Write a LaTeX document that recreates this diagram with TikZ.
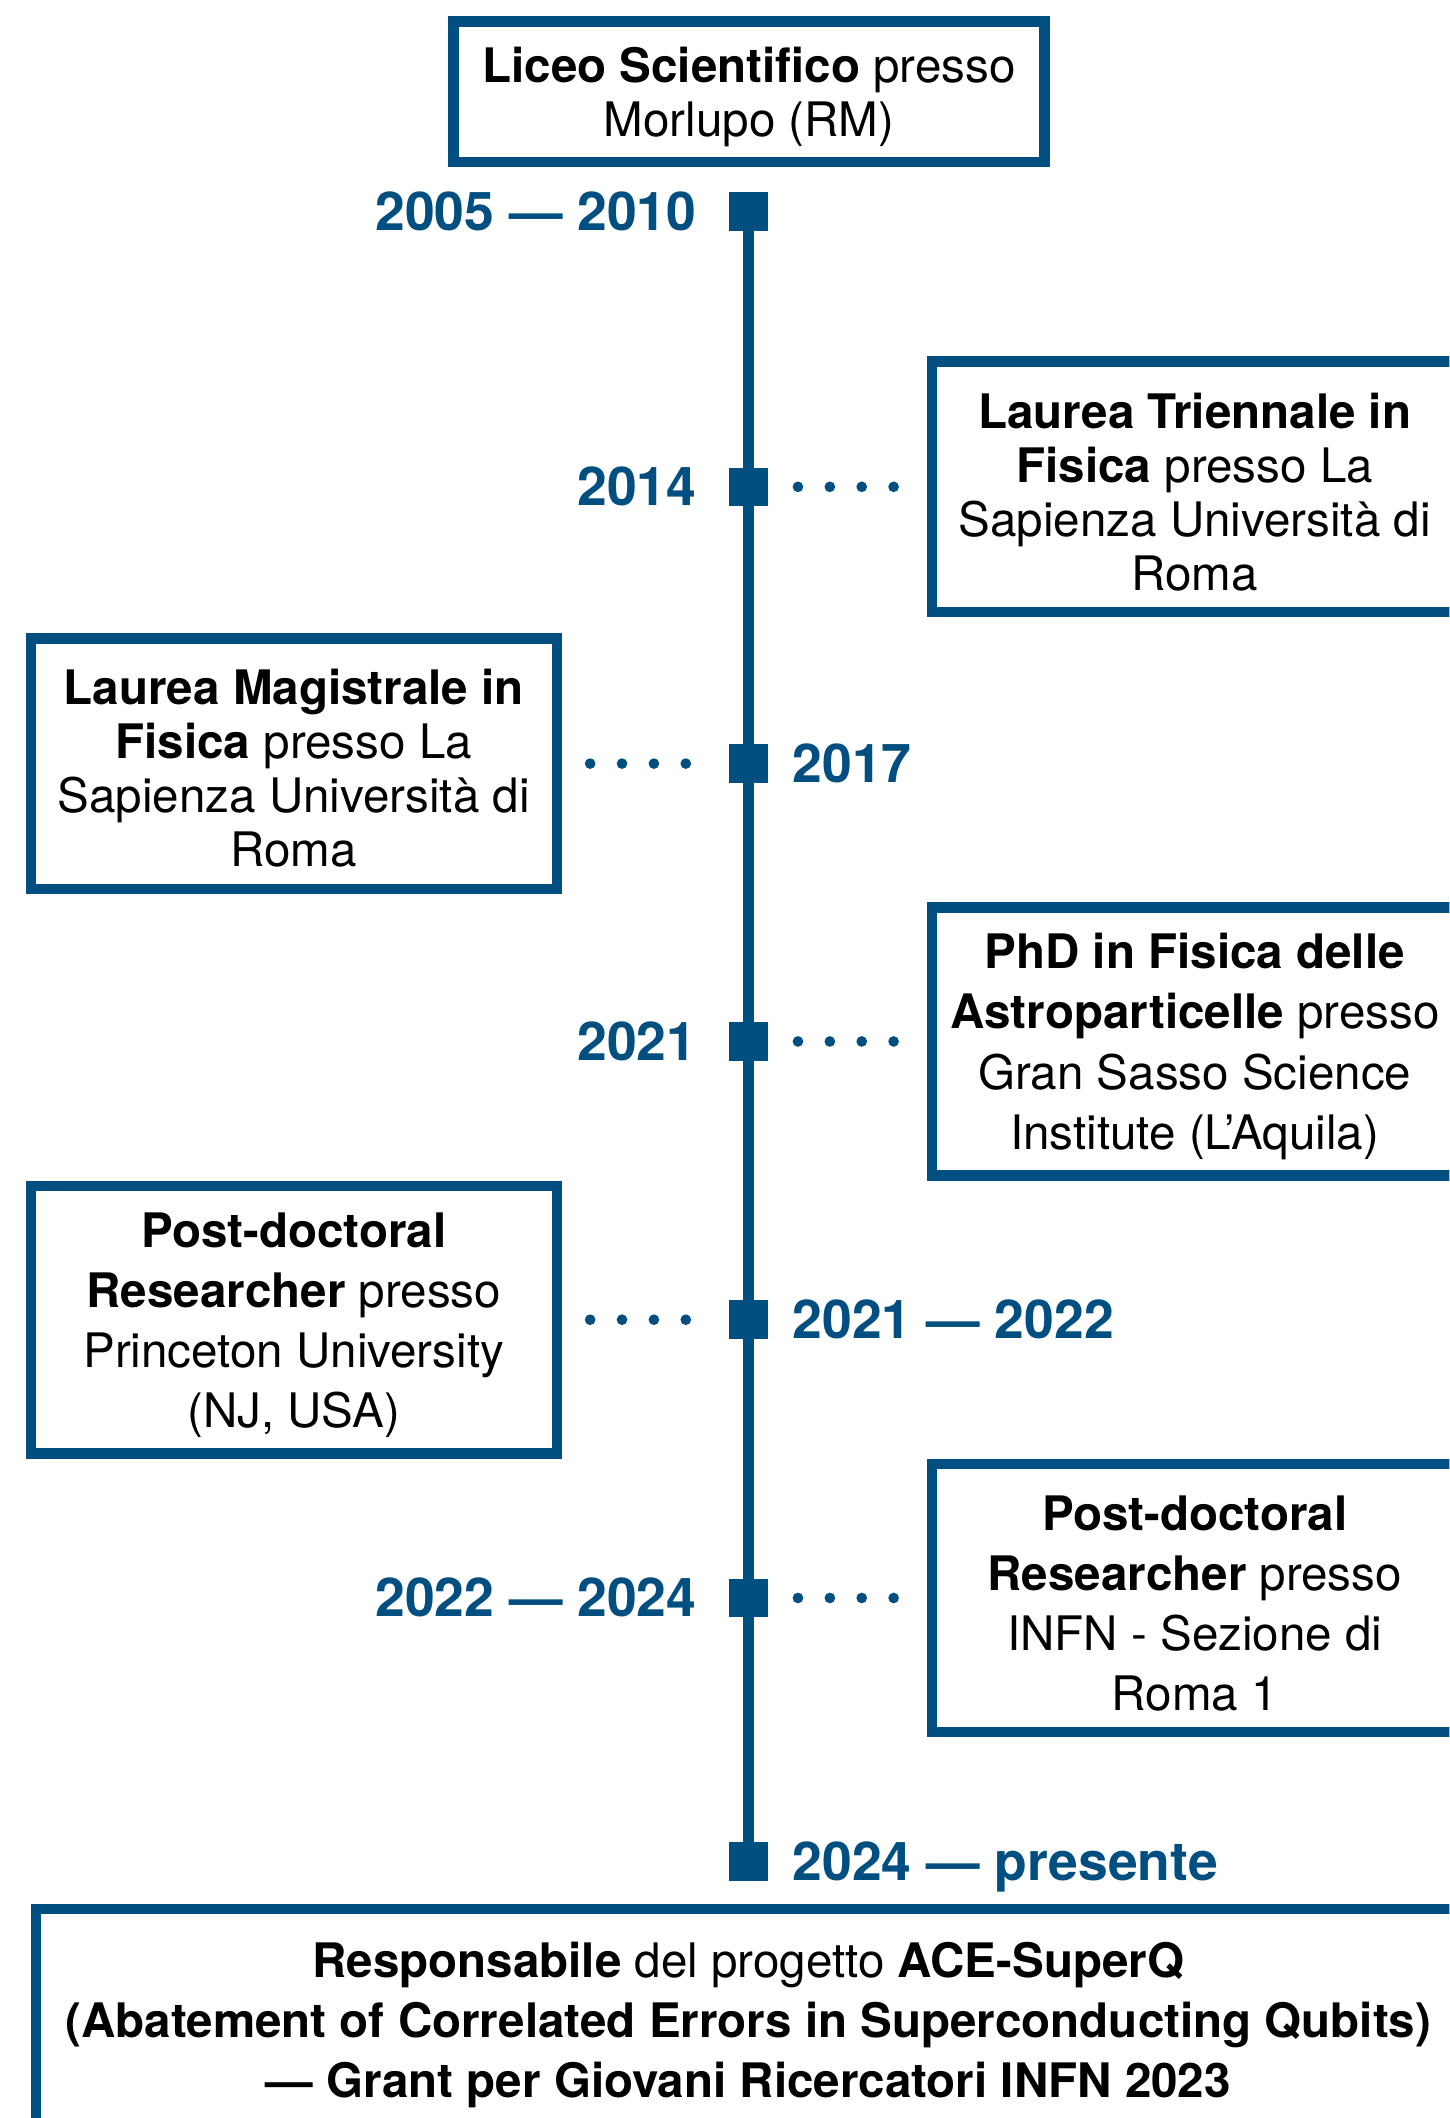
\documentclass[tikz,border=0pt]{standalone}
\usepackage{fontspec}
\setmainfont{TeX Gyre Heros}
\usetikzlibrary{positioning, calc}
\definecolor{timeblu}{RGB}{0,79,128}
\newcommand{\alto}{\rule{0pt}{16.8pt}}

\begin{document}
\begin{tikzpicture}[x=0.5pt, y=-0.5pt,
		tappa/.style={fill=timeblu, minimum size=14.25pt, inner sep=0pt, outer sep=0pt},
		anno/.style={text=timeblu, font=\fontsize{19.8}{23}\selectfont\bfseries, inner sep=0pt},
		evento/.style={draw=timeblu, line width=3.85pt, minimum width=194.65pt, minimum height=92.65pt, align=center, inner sep=0pt, font=\fontsize{17.6}{20}\selectfont},
		largo/.style={minimum height=99.15pt, font=\fontsize{17.6}{22.25}\selectfont},
		puntini/.style={timeblu, line width=3.95pt, line cap=round, dash pattern=on 0pt off 11.8pt}]
		\useasboundingbox (0,0) rectangle (1073,1568);
		\clip (0,0) rectangle (1073,1568);
		% tappe sulla linea del tempo
		\foreach \n/\y in {1/156.6, 2/360.4, 3/565.3, 4/771, 5/977, 6/1183, 7/1378.2}
			\node[tappa] (m\n) at (554,\y) {};
		\draw[timeblu, line width=3.95pt] (m1.center) -- (m7.center);
		% anni
		\node[anno, anchor=base east, yshift=-7pt] (a1) at (516,156.6) {2005 --- 2010};
		\node[anno, anchor=base east, yshift=-7pt] (a2) at (516,360.4) {2014};
		\node[anno, anchor=base west, yshift=-7pt] (a3) at (586.5,565.3) {2017};
		\node[anno, anchor=base east, yshift=-7pt] (a4) at (516,771) {2021};
		\node[anno, anchor=base west, yshift=-7pt] (a5) at (586.5,977) {2021 --- 2022};
		\node[anno, anchor=base east, yshift=-7pt] (a6) at (516,1183) {2022 --- 2024};
		\node[anno, anchor=base west, yshift=-7pt] (a7) at (586.5,1378.2) {2024 --- presente};
		% riquadri
		\node[evento, minimum width=218.65pt, minimum height=52.15pt] (liceo) at (554.5,68) {\alto\textbf{Liceo Scientifico} presso\\Morlupo (RM)};
		\node[evento] (triennale) at (884.5,360.4) {\alto\textbf{Laurea Triennale in}\\\textbf{Fisica} presso La\\Sapienza Università di\\Roma};
		\node[evento] (magistrale) at (217.5,565.3) {\alto\textbf{Laurea Magistrale in}\\\textbf{Fisica} presso La\\Sapienza Università di\\Roma};
		\node[evento, largo] (phd) at (884.5,771) {\alto\textbf{PhD in Fisica delle}\\\textbf{Astroparticelle} presso\\Gran Sasso Science\\Institute (L’Aquila)};
		\node[evento, largo] (princeton) at (217.5,977) {\alto\textbf{Post-doctoral}\\\textbf{Researcher} presso\\Princeton University\\(NJ, USA)};
		\node[evento, largo] (infn) at (884.5,1183) {\alto\textbf{Post-doctoral}\\\textbf{Researcher} presso\\INFN - Sezione di\\Roma 1};
		\node[evento, largo, minimum width=527.15pt, minimum height=82.15pt] (superq) at (554,1495.2) {\alto\textbf{Responsabile} del progetto \textbf{ACE-SuperQ}\\\textbf{(Abatement of Correlated Errors in Superconducting Qubits)}\\\textbf{--- Grant per Giovani Ricercatori INFN 2023}};
		% puntini
		\draw[puntini, shorten <=11.25pt, shorten >=11.5pt] (m2.east) -- (triennale.west);
		\draw[puntini, shorten <=10.45pt, shorten >=14.9pt] (magistrale.east) -- (m3.west);
		\draw[puntini, shorten <=11.25pt, shorten >=11.5pt] (m4.east) -- (phd.west);
		\draw[puntini, shorten <=10.45pt, shorten >=14.9pt] (princeton.east) -- (m5.west);
		\draw[puntini, shorten <=11.25pt, shorten >=11.5pt] (m6.east) -- (infn.west);
	\end{tikzpicture}
\end{document}
